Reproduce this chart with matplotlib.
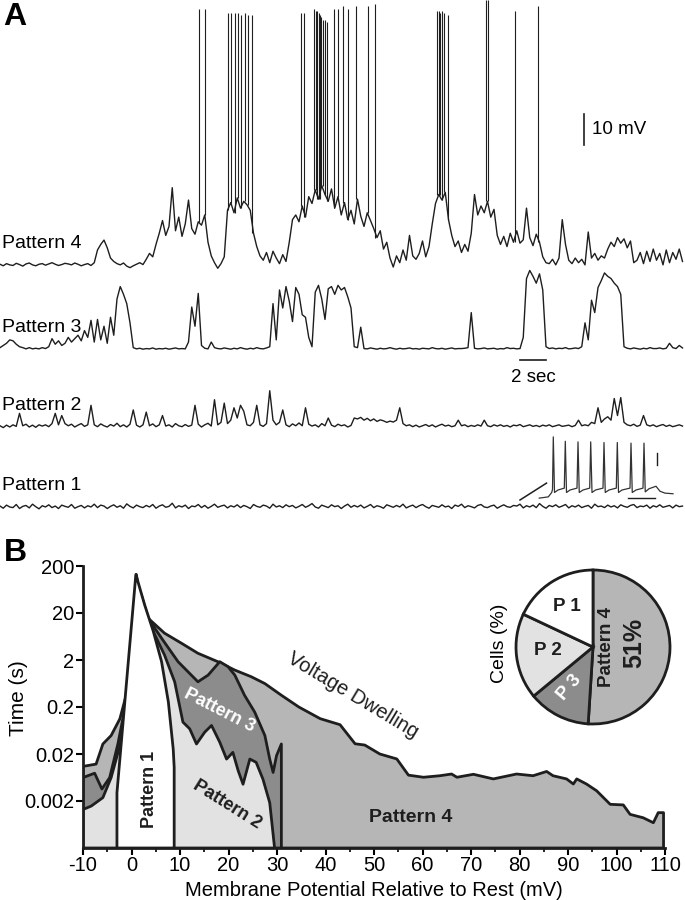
import matplotlib
matplotlib.use("Agg")
import matplotlib.pyplot as plt
import numpy as np
from matplotlib.ticker import NullLocator

plt.rcParams['font.family'] = ['Liberation Sans', 'DejaVu Sans']

# ---------------- panel A: membrane potential (mV above rest), one sample every 0.25 s
dt = 0.25
pattern4 = [0.2, -0.3, 0.4, 0.0, -0.2, 0.5, 0.1, -0.4, 0.3, 0.6, 0.0, -0.3, 0.2, 0.4, -0.1,
            0.3, 0.7, 0.2, -0.2, 0.1, 0.5, 0.3, 0.0, 0.6, 0.2, -0.3, 0.1, 0.4, -0.2,
            0.7, 4.8, 6.6, 8.0, 5.5, 2.2,
            1.1, 0.4, 0.0, 0.6, -0.4, -0.9, -0.3, 0.2, 0.7, 0.1, 1.8,
            3.7, 2.6, 6.6,
            10.2, 14.3, 9.5, 12.4, 24.9, 11.0, 15.4, 9.2, 13.2, 20.9, 11.7, 9.9, 13.9,
            12.8, 16.1, 7.3, 2.9, 0.7, -1.1, 0.4, 2.6,
            17.6, 20.1, 16.8, 21.6, 18.3, 20.5, 19.4, 17.6,
            10.2, 5.9, 2.9,
            1.5, 4.0, 0.7, 4.4, 2.2, 0.4, 3.3, 1.1,
            7.3, 14.6,
            16.1, 13.9, 19.0, 15.4, 22.0, 19.8, 24.2, 21.2, 25.6, 22.7, 20.5, 24.5, 18.3,
            22.0, 16.1, 20.1, 14.6, 17.6, 13.2, 21.2, 15.7, 12.4, 16.8, 14.3, 11.7,
            8.8, 11.0, 5.1, 7.3, 2.2,
            -0.7, 2.9, 0.7, 4.8, 1.5,
            9.5, 2.9, 1.8, 3.7, 7.7, 2.6,
            5.9, 13.2, 19.8, 22.7, 20.9, 23.4, 14.6, 9.5,
            5.9, 7.7, 4.0, 6.6, 4.4, 10.2,
            22.7, 16.1, 19.0, 16.8, 20.5, 15.4, 17.9,
            9.5, 6.6, 9.2, 5.9, 10.2, 7.3, 11.0, 7.0, 8.1, 18.3, 8.8, 6.2, 9.9, 7.3,
            2.6, 0.7, 0.4, 1.8, 0.0, 2.2, 14.6, 6.6,
            1.5, 0.4, 2.2, 0.7, 1.8, 0.0, 10.6,
            2.2, 3.7, 1.5, 2.9, 2.2,
            5.1, 7.3, 5.9, 8.8, 7.0, 8.4, 5.5, 7.7, 0.7,
            1.5, 4.0, 0.4, 4.4, 1.1, 5.1, 1.5, 3.7, 0.0, 4.8, 0.7, 4.0, 1.8, 5.1, 1.1]

pattern3 = [0.4, 1.1, 1.8, 2.9, 2.6, 1.5, 0.7, 0.4, 0.0, 0.4, 0.0, 0.2, 0.0, 0.4, 0.1,
            0.7, 3.3, 1.5, 2.6, 1.1, 1.8, 3.7, 2.2, 3.3, 4.4, 2.6, 5.9,
            3.7, 9.2, 2.2, 9.5, 2.9, 7.3, 1.8, 10.2, 4.4,
            16.1, 20.1, 17.6, 14.6, 8.4,
            0.4, 0.0, 0.2, -0.1, 0.1, 0.0, 0.3, -0.1, 0.1, 0.0, 0.2, -0.1, 0.1, 0.3, 0.0, 0.1, 0.0,
            2.2, 13.5, 7.3, 17.9, 1.1,
            0.2, 0.0, 2.2, 0.4, 0.1, 0.0, 0.3, 0.1, -0.1, 0.2, 0.0, 0.4, 0.1, -0.1, 0.2, 0.0,
            0.4, 0.1, 0.0, 0.3, 0.7,
            14.6, 2.9, 19.0, 13.2, 20.1, 15.4, 8.8, 19.8, 17.6, 11.0, 10.2, 3.7, 0.7,
            18.3, 20.5, 16.1, 9.5, 19.4, 20.1, 17.6, 20.5, 19.0, 19.8, 16.8, 13.2,
            0.7, 0.4, 7.0,
            0.1, 0.0, 0.3, 0.1, -0.1, 0.2, 0.0, 0.1, 0.4, 0.1, -0.1, 0.2, 0.0, 0.1, 0.3, 0.0,
            0.1, -0.1, 0.2, 0.1, 0.0, 0.4, 0.1, 0.0, 0.2, -0.1, 0.1, 0.3, 0.0, 0.1, 0.1, 0.2,
            0.4, 11.7,
            0.2, 0.0, 0.1, 0.3, 0.0, 0.1, 0.2, -0.1, 0.1, 0.0, 0.4, 0.1, 0.2, 0.0, 0.1,
            3.7, 22.7, 25.3, 23.4, 21.2, 24.2, 19.0, 0.7,
            0.1, 0.3, 0.0, 0.2, 0.1, 0.4, 0.0, 0.1, 0.3, 0.1,
            0.7, 8.4, 2.9, 15.7, 11.7, 19.8, 22.0, 24.5, 23.4, 22.7, 21.2, 20.1, 17.6, 0.7,
            0.2, 0.0, 0.3, 0.1, -0.1, 0.2, 0.0, 0.4, 0.1, 0.1, 0.3, 0.0, 0.2, 1.8, 0.4, 0.1, 1.1, 0.3]

pattern2 = [0.4, -0.2, 0.6, 0.0, 0.7, 0.2, 4.4,
            0.4, 0.9, 0.0, 0.6, -0.1, 0.7, 0.3, 0.7, 0.1, 1.1, 4.4, 0.7, 3.7,
            1.1, 0.4, 0.9, 0.0, 0.6, 1.1, 0.2, 0.7, 7.0,
            0.7, 0.1, 1.0, 0.4, 0.0, 0.8, 0.3, 1.2, 0.1, 0.7, 0.0, 0.9, 5.5,
            0.6, 0.0, 0.7, 4.8, 0.4, 1.0, 0.1, 0.7, 3.7,
            0.3, 0.7, 0.0, 1.1, 0.4, 0.1, 0.8, 0.2, 0.6, 7.0,
            0.9, 0.0, 0.7, 1.2, 0.3, 8.8, 0.7, 1.5, 7.7, 1.1, 2.2,
            6.2, 2.9, 7.0, 5.1, 0.7, 0.4, 1.5, 7.0, 0.7, 0.2, 1.1, 11.7,
            2.2, 0.7, 1.5, 5.5, 0.7, 0.1, 1.0, 0.4, 1.3, 0.4, 6.2,
            0.9, 0.3, 0.7, 0.0, 1.1, 0.4, 2.9, 0.6, 0.1, 0.9, 0.4, 0.7, 0.0, 0.5,
            2.9, 2.6, 3.1, 2.2, 2.8, 2.0, 2.6, 1.8, 2.3, 2.0, 1.5, 1.9, 1.6, 2.2, 6.2, 1.1,
            0.4, 0.7, 0.1, 0.6, 0.0, 0.4, 0.8, 0.2, 0.7, 0.0, 0.5, 0.9, 0.3, 0.6, 0.1, 0.4, 2.2,
            0.4, 0.7, 0.1, 0.5, 0.2, 0.7, 0.3, 2.2,
            0.4, 0.1, 0.7, 0.3, 0.7, 0.2, 0.5, 0.0, 0.6, 0.4, 0.8, 0.1, 0.4, 0.7, 0.2, 0.5,
            0.1, 0.6, 0.3, 0.7, 0.1, 0.4, 0.7, 0.2, 0.4, 0.6, 0.1, 0.5, 2.2,
            0.4, 0.7, 0.4, 1.5, 1.1, 6.2, 1.5, 2.6, 3.3, 2.2, 9.2, 3.7, 9.5,
            1.5, 0.7, 0.4, 0.9, 0.2, 0.6, 3.7,
            0.7, 0.3, 0.7, 0.1, 0.5, 0.8, 0.2, 0.6, 0.1, 0.4, 0.7, 0.3]

pattern1 = [0.3, -0.4, 0.6, 0.0, -0.2, 0.8, -0.5, 0.2, 0.5, -0.3,
            0.9, 0.1, -0.6, 0.4, 0.0, 0.7, -0.2, 0.3, -0.5, 0.6,
            0.2, -0.1, 0.8, -0.4, 0.1, 0.5, -0.3, 0.4, 0.0, 0.9,
            -0.2, 0.6, 0.3, -0.5, 0.2, 0.7, -0.1, 0.4, -0.4, 1.0,
            0.2, -0.3, 0.6, 0.1, -0.2, 0.5, 0.0, 0.8, -0.4, 0.3,
            0.7, -0.1, 0.2, 1.2, -0.3, 0.4, 0.0, 0.6, -0.5, 0.3,
            0.1, 0.8, -0.2, 0.5, -0.4, 0.2, 0.9, -0.1, 0.3, 0.6,
            -0.3, 0.4, 0.0, 0.7, -0.2, 0.5, 0.1, -0.5, 0.8, 0.2,
            -0.1, 0.6, 0.3, -0.4, 0.9, 0.0, 0.4, -0.2, 0.7, 0.1,
            0.5, -0.3, 0.2, 0.8, -0.1, 0.4, 1.1, 0.0, -0.4, 0.6,
            0.2, -0.2, 0.7, 0.1, 0.4, -0.5, 0.3, 0.9, -0.1, 0.5,
            0.0, 0.6, -0.3, 0.2, 0.8, -0.2, 0.4, 0.1, -0.4, 0.7,
            0.3, -0.1, 0.5, 0.0, 0.9, -0.3, 0.2, 0.6, -0.2, 0.4,
            0.8, 0.1, -0.4, 0.5, 0.2, -0.1, 0.7, 0.0, 0.3, -0.5,
            0.6, 0.2, 0.9, -0.2, 0.4, 0.1, -0.3, 0.5, 0.8, 0.0,
            -0.2, 0.3, 0.6, -0.4, 0.2, 0.7, 0.1, -0.1, 0.5, 0.3,
            0.9, -0.3, 0.4, 0.0, 0.6, -0.2, 1.1, 0.2, -0.4, 0.5,
            0.1, 0.7, -0.1, 0.3, 0.8, -0.3, 0.4, 0.0, 0.6, -0.2,
            0.2, 0.5, -0.4, 0.9, 0.1, 0.3, -0.2, 0.6, 0.0, 0.4,
            -0.3, 0.7, 0.2, -0.1, 0.5, 0.8, -0.2, 0.3, 0.1, 0.6,
            -0.4, 0.4, 0.0, 0.7, -0.1, 0.2, 0.5, -0.3, 0.6, 0.1, 0.3]

trace_names = ["Pattern 4", "Pattern 3", "Pattern 2", "Pattern 1"]

# action potentials riding on the pattern 4 trace (time s, peak mV above rest)
spike_t = [15.30, 15.77,
           17.54, 17.77, 18.04, 18.31, 18.54, 18.81, 19.05, 19.38,
           23.15, 23.38,
           24.18, 24.30, 24.38, 24.52, 24.60, 24.69, 24.85, 25.00, 25.19,
           25.69, 26.00, 26.38, 26.77, 27.38, 28.31, 28.88,
           33.65, 33.77, 33.85, 34.00, 34.19, 34.43,
           37.38, 37.54, 39.62, 41.38]
spike_peak = [82.7, 82.7,
              81.3, 81.3, 81.3, 81.3, 80.5, 81.3, 80.5, 80.5,
              81.3, 81.3,
              82.7, 82.0, 82.0, 81.3, 80.5, 79.8, 79.1, 79.1, 78.3,
              82.7, 82.7, 83.4, 82.7, 83.4, 83.4, 84.2,
              82.0, 82.0, 81.3, 82.0, 81.3, 80.5,
              85.3, 85.3, 82.0, 83.4]

# inset: evoked firing of a pattern 1 cell (ms, mV)
inset_t = [48.6, 66.6, 73.4, 75.0, 76.6, 79.0, 86.0, 98.6, 100.6, 103.0, 110.0, 124.0,
           126.0, 128.5, 136.0, 149.4, 151.4, 154.0, 161.0, 176.0, 178.0, 180.5, 188.0,
           202.6, 204.6, 207.0, 214.0, 230.0, 232.0, 234.5, 242.0, 256.0, 258.0, 260.5,
           268.0, 282.0, 290.0, 300.0, 316.0]
inset_v = [-69, -67, -60, -55, 29, -60, -56, -53, 22, -60, -56, -53, 21, -60, -56, -53,
           21, -60, -56, -53, 20, -60, -56, -53, 20, -60, -56, -53, 19, -60, -56, -53,
           19, -59, -54, -50, -58, -61, -62]
ramp_t = [10, 63]
ramp_v = [-72, -45]

# ---------------- panel B: time spent at each potential (s)
dwell_mv = [-10, -7.3, -5.9, -4.2, -2.4, -1.1, 0.0, 1.0, 2.0, 3.4, 6.8, 10.3, 13.7, 17.8,
            21.3, 24.7, 27.5, 30.9, 34.5, 38.9, 43.0, 46.1, 48.1, 51.2, 54.7, 57.1, 60.2,
            63.6, 66.0, 67.1, 70.5, 74.6, 79.4, 82.8, 85.6, 86.9, 89.7, 91.1, 91.8, 93.8,
            95.9, 98.7, 101.4, 102.8, 105.5, 107.6, 108.6, 109.7]
dwell_s = [0.0109, 0.0122, 0.0327, 0.0494, 0.112, 0.356, 1.84, 132, 30.2, 15.6, 7.45, 4.55,
           2.78, 1.84, 1.22, 0.88, 0.63, 0.356, 0.20, 0.113, 0.084, 0.033, 0.031, 0.020,
           0.0157, 0.0071, 0.0064, 0.0069, 0.0075, 0.0064, 0.0074, 0.0059, 0.0075, 0.0069,
           0.0085, 0.0069, 0.0059, 0.0046, 0.0059, 0.0046, 0.0033, 0.0017, 0.00165,
           0.00104, 0.00088, 0.00069, 0.00113, 0.00113]

p3_mv = [-10, -7.6, -6.1, -4.5, -2.8, -1.1, 0.0, 1.2, 2.0, 3.4, 6.2, 9.6, 13.7, 15.8, 18.2,
         19.9, 21.3, 23.3, 25.4, 27.5, 28.5, 29.2, 29.9, 30.9]
p3_s = [0.0063, 0.0078, 0.0036, 0.0063, 0.033, 0.256, 2.17, 74.6, 49.4, 15.6, 5.82, 1.84,
        0.687, 0.955, 1.84, 1.44, 0.955, 0.356, 0.156, 0.0494, 0.0156, 0.0081, 0.0184, 0.0327]

p2_mv = [-10, -8.3, -5.9, -4.2, -2.4, -0.7, 0.3, 1.2, 2.7, 4.8, 6.8, 8.9, 10.6, 12.0, 13.4,
         15.1, 16.5, 18.2, 19.6, 20.9, 22.0, 23.0, 24.4, 25.7, 27.1, 28.5, 29.5]
p2_s = [0.00132, 0.00156, 0.00236, 0.0063, 0.030, 0.256, 9.55, 68.7, 21.7, 6.87, 2.56, 0.687,
        0.0955, 0.0687, 0.0327, 0.0583, 0.0809, 0.0356, 0.0156, 0.0217, 0.0088, 0.00455,
        0.0156, 0.0133, 0.00583, 0.00184, 0.0002]

p1_mv = [-3.0, 0.9, 2.7, 4.5, 6.2, 7.6, 8.6, 8.8]
p1_s = [0.0030, 132, 30.0, 8.1, 1.84, 0.256, 0.0256, 0.0104]

cell_share = [51, 13, 18, 18]      # pattern 4, 3, 2, 1 (% of cells)

ink = '#1e1e1e'
c_p4 = '#b6b6b6'
c_p3 = '#8c8c8c'
c_p2 = '#e2e2e2'
c_p1 = '#ffffff'

W, H = 685.0, 900.0
sec_px = 13.0     # pixels per second in panel A
mv_px = 3.1       # pixels per mV in panel A


def box(x0, y0, x1, y1):
    return [x0 / W, 1 - y1 / H, (x1 - x0) / W, (y1 - y0) / H]


fig = plt.figure(figsize=(6.85, 9.0), dpi=100)

# ---------- A
axA = fig.add_axes(box(0, 0, 685, 520))
axA.set_xlim(0, W / sec_px)
axA.set_ylim(0, 520 / mv_px)
axA.axis('off')

traces = [pattern4, pattern3, pattern2, pattern1]
offsets = [82.3, 55.2, 30.0, 4.2]
for vals, off, name in zip(traces, offsets, trace_names):
    v = np.array(vals) + off
    t = np.arange(len(v)) * dt
    axA.plot(t, v, color=ink, lw=1.0)
    axA.text(0.12, off + 7.0, name, fontsize=14, ha='left', va='center')

p4 = np.array(pattern4)
idx = np.clip(np.round(np.array(spike_t) / dt).astype(int), 0, len(p4) - 1)
axA.vlines(spike_t, p4[idx] + offsets[0], np.array(spike_peak) + offsets[0],
           color=ink, lw=0.8)

# scale bars
axA.plot([44.92, 44.92], [121.0, 131.0], color=ink, lw=1.2)
axA.text(45.5, 126.0, "10 mV", fontsize=13.5, ha='left', va='center')
axA.plot([40.0, 42.0], [51.6, 51.6], color=ink, lw=1.2)
axA.text(41.0, 46.0, "2 sec", fontsize=13.5, ha='center', va='center')

axI = fig.add_axes(box(515, 430, 680, 505))
axI.set_xlim(0, 330)
axI.set_ylim(-80, 40)
axI.axis('off')
axI.plot(inset_t, inset_v, color='#333333', lw=0.9)
axI.plot(ramp_t, ramp_v, color=ink, lw=1.1)
axI.plot([284.6, 284.6], [-16, 3], color=ink, lw=1.0)
axI.plot([226, 280], [-69, -69], color=ink, lw=1.0)

fig.text(15 / W, 1 - 17 / H, "A", fontsize=23, fontweight='bold', ha='center', va='center')

# ---------- B
ybot = 2e-4
axB = fig.add_axes(box(83, 566, 665, 848))
axB.set_yscale('log')
axB.set_xlim(-10, 110)
axB.set_ylim(ybot, 200)


def region(mv, secs, color, z):
    xs = [mv[0]] + list(mv) + [mv[-1]]
    ys = [ybot] + list(secs) + [ybot]
    axB.fill(xs, ys, facecolor=color, edgecolor=ink, lw=2, zorder=z, joinstyle='round')


region(dwell_mv, dwell_s, c_p4, 1)
region(p3_mv, p3_s, c_p3, 2)
region(p2_mv, p2_s, c_p2, 3)
region(p1_mv, p1_s, c_p1, 4)

axB.text(3.8, 0.0036, "Pattern 1", rotation=90, fontsize=13, fontweight='bold',
         ha='center', va='center', color=ink, zorder=6)
axB.text(19.7, 0.0017, "Pattern 2", rotation=-32, fontsize=13, fontweight='bold',
         ha='center', va='center', color=ink, zorder=6)
axB.text(18.2, 0.17, "Pattern 3", rotation=-27, fontsize=13, fontweight='bold',
         ha='center', va='center', color='white', zorder=6)
axB.text(57.6, 0.0009, "Pattern 4", fontsize=14, fontweight='bold',
         ha='center', va='center', color=ink, zorder=6)
axB.text(45.7, 0.36, "Voltage Dwelling", rotation=-31, fontsize=14.5,
         ha='center', va='center', color=ink, zorder=6)

axB.set_yticks([0.002, 0.02, 0.2, 2, 20, 200])
axB.set_yticklabels(['0.002', '0.02', '0.2', '2', '20', '200'])
axB.yaxis.set_minor_locator(NullLocator())
axB.set_xticks(range(-10, 111, 10))
axB.set_xticklabels([str(v) for v in range(-10, 111, 10)])
axB.set_xticks(range(-5, 110, 10), minor=True)
axB.tick_params(which='major', direction='out', length=5, width=1.5, labelsize=14.5, pad=1.5)
axB.tick_params(axis='x', which='major', pad=1)
axB.tick_params(which='minor', direction='out', length=3, width=1.2)
for s in ['top', 'right']:
    axB.spines[s].set_visible(False)
for s in ['left', 'bottom']:
    axB.spines[s].set_linewidth(2)
    axB.spines[s].set_color(ink)
    axB.spines[s].set_zorder(7)

axB.set_xlabel("Membrane Potential Relative to Rest (mV)", fontsize=14.5)
axB.xaxis.set_label_coords(0.5, -0.118)
axB.set_ylabel("Time (s)", fontsize=15)
axB.yaxis.set_label_coords(-0.095, 0.53)

fig.text(15 / W, 1 - 553 / H, "B", fontsize=23, fontweight='bold', ha='center', va='center')

# pie of cell classes
axP = fig.add_axes(box(508, 562, 678, 732))
axP.pie(cell_share, colors=[c_p4, c_p3, c_p2, c_p1], startangle=90, counterclock=False,
        wedgeprops=dict(edgecolor=ink, linewidth=2))
axP.set_xlim(-1.104, 1.104)
axP.set_ylim(-1.104, 1.104)
axP.set_aspect('equal')
axP.text(-0.34, 0.52, "P 1", fontsize=13.5, fontweight='bold', ha='center', va='center', color=ink)
axP.text(-0.58, -0.04, "P 2", fontsize=13.5, fontweight='bold', ha='center', va='center', color=ink)
axP.text(-0.30, -0.53, "P 3", fontsize=13.5, fontweight='bold', ha='center', va='center',
         color='white', rotation=50)
axP.text(0.18, 0.0, "Pattern 4", fontsize=13.5, fontweight='bold', ha='center', va='center',
         color=ink, rotation=90)
axP.text(0.53, 0.05, "51%", fontsize=18, fontweight='bold', ha='center', va='center',
         color=ink, rotation=90)
axP.text(-1.21, 0.05, "Cells (%)", fontsize=14, ha='center', va='center', rotation=90)

fig.savefig("out.png", dpi=100)
